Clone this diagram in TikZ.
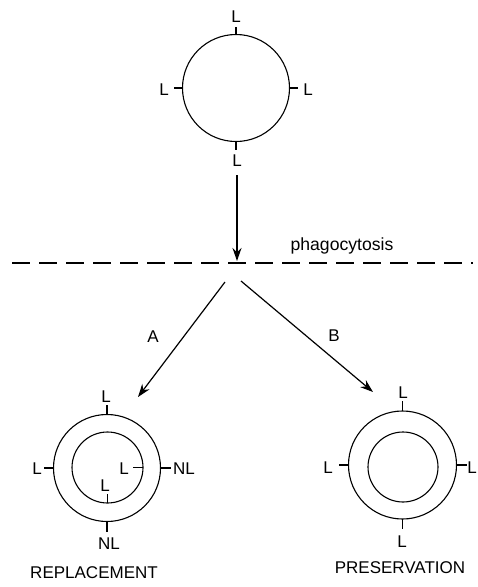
\documentclass[tikz,border=0pt]{standalone}
\usepackage{fontspec}
\setmainfont{Liberation Sans}
\usetikzlibrary{arrows.meta}
\begin{document}
\begin{tikzpicture}[x=1pt,y=-1pt,
  cell/.style={circle,draw,line width=1.1pt,inner sep=0pt,outer sep=0pt},
  tick/.style={line width=1.3pt},
  lab/.style={font=\fontsize{17}{18}\selectfont,inner sep=0pt},
  flow/.style={line width=1.2pt,-{Stealth[length=13pt,width=9pt]}}]
\useasboundingbox (0,0) rectangle (478,587);
% top cell
\node[cell,minimum size=107pt] (c0) at (236,88) {};
\draw[tick] (c0.north) -- ++(0,-8);
\draw[tick] (c0.south) -- ++(0,8);
\draw[tick] (c0.west) -- ++(-9,0);
\draw[tick] (c0.east) -- ++(8,0);
\node[lab] (t0) at (236,17) {L};
\node[lab] (b0) at (237,161) {L};
\node[lab] (l0) at (164,90) {L};
\node[lab] (r0) at (308,90) {L};
% arrow to membrane
\coordinate (s0) at (237,175);
\coordinate (e0) at (237,261);
\draw[flow] (s0) -- (e0);
% dashed line
\coordinate (d1) at (12,263);
\coordinate (d2) at (473,263);
\draw[line width=1.1pt,dash pattern=on 18pt off 9pt] (d1) -- (d2);
\node[lab,font=\fontsize{17.6}{18}\selectfont] (ph) at (342,246) {phagocytosis};
% branches
\coordinate (sa) at (225,282);
\coordinate (ea) at (138,397);
\coordinate (sb) at (241,281);
\coordinate (eb) at (373,392);
\draw[flow] (sa) -- (ea);
\draw[flow] (sb) -- (eb);
\node[lab] (A) at (153,337) {A};
\node[lab] (B) at (334,336) {B};
% left cell (replacement)
\node[cell,minimum size=107pt] (c1) at (107,468) {};
\node[cell,minimum size=71pt] (i1) at (107.5,467.5) {};
\draw[tick] (c1.north) -- ++(0,-10);
\draw[tick] (c1.south) -- ++(0,10);
\draw[tick] (c1.west) -- ++(-10,0);
\draw[tick] (c1.east) -- ++(10,0);
\draw[tick] (i1.east) -- ++(-10,0);
\draw[tick] (i1.south) -- ++(0,-9);
\node[lab] (t1) at (106,397) {L};
\node[lab] (l1) at (37,469) {L};
\node[lab] (r1) at (184,469) {NL};
\node[lab] (b1) at (109,544) {NL};
\node[lab] (ir1) at (124,469) {L};
\node[lab] (ib1) at (105,486) {L};
\node[lab] (rep) at (94,573) {REPLACEMENT};
% right cell (preservation)
\node[cell,minimum size=108pt] (c2) at (402.5,465) {};
\node[cell,minimum size=70pt] (i2) at (403,467) {};
\draw[tick] (c2.north) -- ++(0,-10);
\draw[tick] (c2.south) -- ++(0,10);
\draw[tick] (c2.west) -- ++(-10,0);
\draw[tick] (c2.east) -- ++(10,0);
\node[lab] (t2) at (403,393) {L};
\node[lab] (l2) at (328,468) {L};
\node[lab] (r2) at (472,468) {L};
\node[lab] (b2) at (402,542) {L};
\node[lab] (pre) at (400,568) {PRESERVATION};
\end{tikzpicture}
\end{document}
